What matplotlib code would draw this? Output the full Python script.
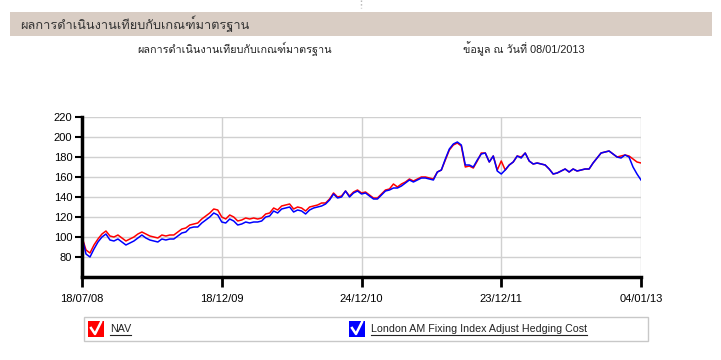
import matplotlib
matplotlib.use("Agg")
import matplotlib.pyplot as plt
from matplotlib.patches import Rectangle
from matplotlib.lines import Line2D

plt.rcParams['font.family'] = ['Liberation Sans', 'Loma', 'DejaVu Sans']

tick_labels = ['18/07/08', '18/12/09', '24/12/10', '23/12/11', '04/01/13']

nav = [100, 87, 84, 92, 98, 103, 106, 101, 100, 102, 99, 96, 98, 100, 103, 105, 103, 101, 100, 99,
       102, 101, 102, 102, 105, 108, 109, 112, 113, 114, 118, 121, 124, 128, 127, 120, 118, 122, 120, 116,
       117, 119, 118, 119, 118, 119, 123, 124, 129, 127, 131, 132, 133, 128, 130, 129, 126, 130, 131, 132,
       134, 134, 138, 144, 140, 141, 146, 141, 145, 147, 144, 145, 142, 139, 139, 143, 147, 148, 153, 150,
       153, 155, 158, 156, 158, 160, 160, 159, 158, 165, 167, 177, 187, 192, 194, 191, 170, 171, 169, 176,
       184, 184, 175, 181, 167, 176, 167, 172, 175, 181, 180, 184, 176, 173, 174, 173, 172, 168, 163, 164,
       166, 168, 165, 168, 166, 167, 168, 168, 174, 179, 184, 185, 186, 183, 180, 181, 182, 181, 178, 175,
       174]

benchmark = [100, 83, 80, 88, 95, 100, 103, 97, 96, 98, 95, 92, 94, 96, 99, 102, 99, 97, 96, 95,
             98, 97, 98, 98, 101, 104, 105, 109, 110, 110, 114, 117, 120, 124, 122, 115, 114, 118, 116, 112,
             113, 115, 114, 115, 115, 116, 120, 121, 126, 124, 128, 129, 130, 125, 127, 126, 123, 127, 129, 130,
             131, 133, 137, 143, 139, 140, 146, 140, 144, 146, 143, 144, 141, 138, 138, 142, 146, 147, 149, 149,
             151, 154, 157, 155, 157, 159, 159, 158, 157, 165, 167, 178, 188, 193, 195, 192, 172, 172, 170, 177,
             183, 184, 175, 181, 166, 163, 167, 172, 175, 181, 179, 184, 176, 173, 174, 173, 172, 168, 163, 164,
             166, 168, 165, 168, 166, 167, 168, 168, 174, 179, 184, 185, 186, 183, 180, 179, 182, 180, 170, 163,
             157]

x = list(range(len(nav)))
n = len(nav) - 1
tick_pos = [i * n / 4 for i in range(5)]

fig = plt.figure(figsize=(7.21, 3.60), dpi=100)
fig.patch.set_facecolor('white')

# header band
fig.add_artist(Rectangle((10 / 721, 1 - 36 / 360), 702 / 721, 24 / 360,
                         transform=fig.transFigure, facecolor='#d9cdc4', edgecolor='none'))
fig.text(20 / 721, 1 - 24 / 360, 'ผลการดำเนินงานเทียบกับเกณฑ์มาตรฐาน', fontsize=9.2,
         color='#333333', va='center', ha='left')
fig.add_artist(Line2D([361 / 721, 361 / 721], [1, 1 - 8 / 360], transform=fig.transFigure,
                      color='#b0b0b0', lw=1, ls=':'))

fig.text(235 / 721, 1 - 49 / 360, 'ผลการดำเนินงานเทียบกับเกณฑ์มาตรฐาน', fontsize=7.8,
         color='#222222', va='center', ha='center')
fig.text(463 / 721, 1 - 49 / 360, 'ข้อมูล ณ วันที่ 08/01/2013', fontsize=7.8,
         color='#222222', va='center', ha='left')

ax = fig.add_axes([82 / 721, 1 - 277 / 360, 559 / 721, 160 / 360])
ax.plot(x, nav, color='#ff0000', lw=1.1)
ax.plot(x, benchmark, color='#0000ff', lw=1.1)

ax.set_xlim(0, n)
ax.set_ylim(60, 220)
ax.set_yticks(range(80, 221, 20))
ax.set_xticks(tick_pos)
ax.set_xticklabels(tick_labels)
ax.grid(True, color='#d0d0d0', lw=1)
ax.set_axisbelow(True)
for s in ['top', 'right']:
    ax.spines[s].set_visible(False)
ax.spines['left'].set_linewidth(2.5)
ax.spines['bottom'].set_linewidth(2.5)
ax.tick_params(axis='y', length=5, width=1.5, labelsize=8, pad=2, colors='black')
ax.tick_params(axis='x', length=7, width=2, labelsize=8, pad=5, colors='black')

# legend box
fig.add_artist(Rectangle((84 / 721, 1 - 341 / 360), 564 / 721, 24 / 360, transform=fig.transFigure,
                         facecolor='white', edgecolor='#c8c8c8', lw=1))
renderer = fig.canvas.get_renderer()
for bx, col, label in [(88, '#ff0000', 'NAV'), (349, '#0000ff', 'London AM Fixing Index Adjust Hedging Cost')]:
    fig.add_artist(Rectangle((bx / 721, 1 - 337 / 360), 16 / 721, 16 / 360, transform=fig.transFigure,
                             facecolor=col, edgecolor='none'))
    fig.add_artist(Line2D([(bx + 3) / 721, (bx + 7) / 721, (bx + 13) / 721],
                          [1 - 328 / 360, 1 - 334 / 360, 1 - 322 / 360], transform=fig.transFigure,
                          color='white', lw=1.8))
    t = fig.text((bx + 22) / 721, 1 - 329 / 360, label, fontsize=7.7, color='#222222', va='center', ha='left')
    bb = t.get_window_extent(renderer)
    # underline like a link
    fig.add_artist(Line2D([bb.x0 / 721, bb.x1 / 721], [1 - 335 / 360, 1 - 335 / 360],
                          transform=fig.transFigure, color='#222222', lw=0.8))

fig.savefig('out.png', dpi=100)
